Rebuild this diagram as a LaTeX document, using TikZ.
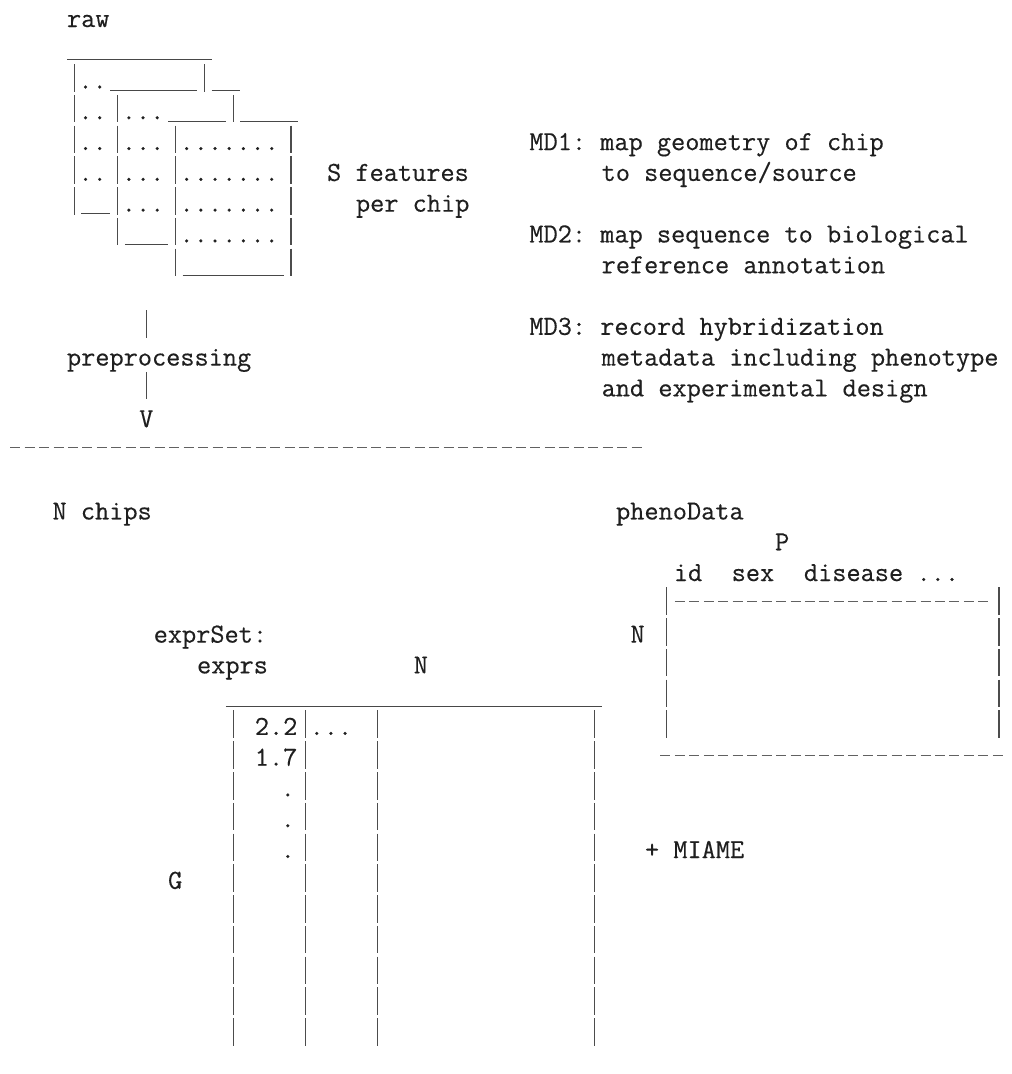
\documentclass[tikz,border=0pt]{standalone}
\usepackage{fontspec}
\setmonofont[FakeBold=0.35]{Latin Modern Mono}

% character-cell helpers: a vertical bar, a run of underscores, a run of dashes
\newcommand\asciibar[3]{\draw[vrule] ({cx(#1)+7.2},{by(#2)-24.5}) -- ({cx(#1)+7.2},{by(#3)+3});}
\newcommand\asciiline[3]{\draw[hrule] ({cx(#2)},{by(#1)+2}) -- ({cx(#3+1)},{by(#1)+2});}
\newcommand\asciidashes[3]{\draw[drule] ({cx(#2)+1},{by(#1)-10.5}) -- ({cx(#3+1)},{by(#1)-10.5});}

\begin{document}
\begin{tikzpicture}[
  x=1pt, y=-1pt,
  declare function={cx(\x)=9.2+14.45*\x; by(\x)=27+30.78*(\x-1);},
  tt/.style={anchor=base west, inner sep=0pt, outer sep=0pt, text=black!88,
    font=\fontsize{27.52pt}{30pt}\selectfont\ttfamily},
  dotrow/.style={tt, xshift=-3pt},
  vrule/.style={draw=black!70, line width=1.1pt, dash pattern=on 27.5pt off 3.28pt},
  hrule/.style={draw=black!72, line width=1.1pt},
  drule/.style={draw=black!62, line width=1.1pt, dash pattern=on 10pt off 4.45pt},
]
% page
\fill[white] (0,0) rectangle (1012,1074);

% ---------- raw chips: three stacked sheets ----------
\node[tt] (raw) at ({cx(4)},{by(1)}) {raw};

\asciiline{2}{4}{13}
\asciiline{3}{7}{12}
\asciiline{3}{14}{15}
\asciiline{4}{11}{14}
\asciiline{4}{16}{19}
\asciiline{7}{5}{6}
\asciiline{8}{8}{10}
\asciiline{9}{12}{18}

\asciibar{4}{3}{7}
\asciibar{13}{3}{3}
\asciibar{7}{4}{8}
\asciibar{15}{4}{4}
\asciibar{11}{5}{9}
\asciibar{19}{5}{9}

\node[dotrow] (d3a) at ({cx(5)},{by(3)}) {..};
\node[dotrow] (d4a) at ({cx(5)},{by(4)}) {..};
\node[dotrow] (d4b) at ({cx(8)},{by(4)}) {...};
\node[dotrow] (d5a) at ({cx(5)},{by(5)}) {..};
\node[dotrow] (d5b) at ({cx(8)},{by(5)}) {...};
\node[dotrow] (d5c) at ({cx(12)},{by(5)}) {.......};
\node[dotrow] (d6a) at ({cx(5)},{by(6)}) {..};
\node[dotrow] (d6b) at ({cx(8)},{by(6)}) {...};
\node[dotrow] (d6c) at ({cx(12)},{by(6)}) {.......};
\node[dotrow] (d7b) at ({cx(8)},{by(7)}) {...};
\node[dotrow] (d7c) at ({cx(12)},{by(7)}) {.......};
\node[dotrow] (d8c) at ({cx(12)},{by(8)}) {.......};

\node[tt] (sfeat) at ({cx(22)},{by(6)}) {S features};
\node[tt] (perchip) at ({cx(24)},{by(7)}) {per chip};

% ---------- metadata notes ----------
\node[tt] (md1) at ({cx(36)},{by(5)}) {MD1: map geometry of chip};
\node[tt] (md1b) at ({cx(41)},{by(6)}) {to sequence/source};
\node[tt] (md2) at ({cx(36)},{by(8)}) {MD2: map sequence to biological};
\node[tt] (md2b) at ({cx(41)},{by(9)}) {reference annotation};
\node[tt] (md3) at ({cx(36)},{by(11)}) {MD3: record hybridization};
\node[tt] (md3b) at ({cx(41)},{by(12)}) {metadata including phenotype};
\node[tt] (md3c) at ({cx(41)},{by(13)}) {and experimental design};

% ---------- preprocessing step ----------
\asciibar{9}{11}{11}
\node[tt] (prep) at ({cx(4)},{by(12)}) {preprocessing};
\asciibar{9}{13}{13}
\node[tt] (vhead) at ({cx(9)},{by(14)}) {V};

\asciidashes{15}{0}{43}

% ---------- exprSet ----------
\node[tt] (nchips) at ({cx(3)},{by(17)}) {N chips};
\node[tt] (eset) at ({cx(10)},{by(21)}) {exprSet:};
\node[tt] (exprs) at ({cx(13)},{by(22)}) {exprs};
\node[tt] (ncols) at ({cx(28)},{by(22)}) {N};

\asciiline{23}{15}{40}
\asciibar{15}{24}{34}
\asciibar{20}{24}{34}
\asciibar{25}{24}{34}
\asciibar{40}{24}{34}

\node[tt] (v1) at ({cx(17)},{by(24)}) {2.2};
\node[dotrow] (vmore) at ({cx(21)},{by(24)}) {...};
\node[tt] (v2) at ({cx(17)},{by(25)}) {1.7};
\node[dotrow] (vd1) at ({cx(19)},{by(26)}) {.};
\node[dotrow] (vd2) at ({cx(19)},{by(27)}) {.};
\node[dotrow] (vd3) at ({cx(19)},{by(28)}) {.};
\node[tt] (grows) at ({cx(11)},{by(29)}) {G};

% ---------- phenoData ----------
\node[tt] (pdata) at ({cx(42)},{by(17)}) {phenoData};
\node[tt] (pcols) at ({cx(53)},{by(18)}) {P};
\node[tt] (cid) at ({cx(46)},{by(19)}) {id};
\node[tt] (csex) at ({cx(50)},{by(19)}) {sex};
\node[tt] (cdis) at ({cx(55)},{by(19)}) {disease};
\node[dotrow] (cmore) at ({cx(63)},{by(19)}) {...};

\asciibar{45}{20}{24}
\asciibar{68}{20}{24}
\asciidashes{20}{46}{67}
\asciidashes{25}{45}{68}
\node[tt] (prows) at ({cx(43)},{by(21)}) {N};

\node[tt] (miame) at ({cx(44)},{by(28)}) {+ MIAME};
\end{tikzpicture}
\end{document}
